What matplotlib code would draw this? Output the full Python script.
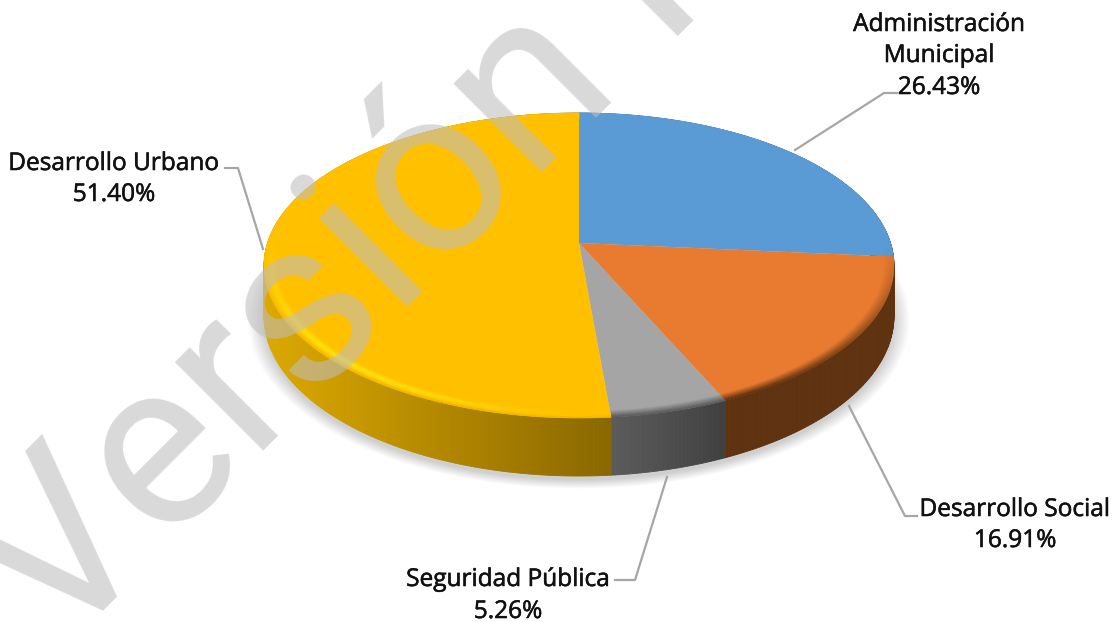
import numpy as np
import matplotlib
matplotlib.use("Agg")
import matplotlib.pyplot as plt
from matplotlib.collections import PolyCollection
from matplotlib.colors import to_rgb
import matplotlib.patheffects as pe

categories = ["Administración\nMunicipal", "Desarrollo Social", "Seguridad Pública", "Desarrollo Urbano"]
values = [26.43, 16.91, 5.26, 51.40]
value_labels = ["26.43%", "16.91%", "5.26%", "51.40%"]
face_colors = ["#5B9BD5", "#E97B30", "#A5A5A5", "#FFC000"]
side_left = ["#2F5F8F", "#5F3210", "#5C5C5C", "#DDA900"]
side_right = ["#1F4E79", "#5F3210", "#404040", "#8A6800"]

W, H = 1117, 622
fig = plt.figure(figsize=(W / 100, H / 100), dpi=100, facecolor="white")
ax = fig.add_axes([0, 0, 1, 1])
ax.set_xlim(0, W)
ax.set_ylim(H, 0)
ax.axis("off")

cx, cy, A, B, k, DEPTH = 579, 243, 311.5, 149.2, 0.1475, 58


def proj(r, th):
    x, y = r * np.sin(th), r * np.cos(th)
    w = 1 + k * y
    return cx + A * x / w, cy - B * y / w


def depth_at(th):
    return DEPTH * (1 - k) / (1 + k * np.cos(th))


def mix(a, b, f):
    a, b = np.array(to_rgb(a)), np.array(to_rgb(b))
    return a + (b - a) * f


# soft shadow under the pie
t_all = np.linspace(0, 2 * np.pi, 361)
sx, sy = proj(1.0, t_all)
sy = sy + depth_at(t_all) + 4
n = 16
for i in range(n):
    g = 1 + 0.05 * (1 - i / (n - 1))
    ax.fill(579 + (sx - 579) * g, 264 + 45 + (sy - 264 - 45) * g,
            color="#000000", alpha=0.011, lw=0, zorder=1)

edges = np.radians(np.concatenate([[0], np.cumsum(values)]) * 3.6)
edges[-1] = 2 * np.pi

# side walls
for i in range(4):
    th = np.linspace(edges[i], edges[i + 1], max(8, int((edges[i + 1] - edges[i]) * 90)))
    xs, ys = proj(1.0, th)
    x0, x1 = xs.min(), xs.max()
    polys, cols = [], []
    for j in range(len(th) - 1):
        d0, d1 = depth_at(th[j]), depth_at(th[j + 1])
        polys.append([(xs[j], ys[j]), (xs[j + 1], ys[j + 1]),
                      (xs[j + 1], ys[j + 1] + d1), (xs[j], ys[j] + d0)])
        cols.append(mix(side_left[i], side_right[i], (xs[j] - x0) / max(x1 - x0, 1)))
    ax.add_collection(PolyCollection(polys, facecolors=cols, edgecolors=cols, linewidths=0.6, zorder=2))

# faces
for i in range(4):
    th = np.linspace(edges[i], edges[i + 1], 200)
    xs, ys = proj(1.0, th)
    ax.fill(np.r_[cx, xs], np.r_[cy, ys], color=face_colors[i], lw=0, zorder=3)

# bevel on the rim
levels = np.linspace(0.945, 1.0, 15)
for i in range(4):
    th = np.linspace(edges[i], edges[i + 1], max(8, int((edges[i + 1] - edges[i]) * 90)))
    polys, cols = [], []
    for a, b in zip(levels[:-1], levels[1:]):
        xa, ya = proj(a, th)
        xb, yb = proj(b, th)
        f = (a - levels[0]) / (levels[-1] - levels[0])
        for j in range(len(th) - 1):
            front = np.clip(-np.cos(th[j]) * 1.15, 0, 1)
            if i == 3:
                left = np.clip(-np.sin(th[j]) * 1.3, 0, 1)
                hl = np.exp(-((f - 0.55) / 0.22) ** 2) * (0.04 + 0.96 * front * left)
                c = mix(face_colors[i], "#FFEE10", hl)
                if f > 0.8:
                    c = mix(c, side_left[i], (f - 0.8) / 0.2 * 0.6 * front)
            else:
                c = mix(face_colors[i], side_left[i], np.clip((f - 0.35) / 0.6, 0, 1) * front)
            polys.append([(xa[j], ya[j]), (xa[j + 1], ya[j + 1]), (xb[j + 1], yb[j + 1]), (xb[j], yb[j])])
            cols.append(c)
    ax.add_collection(PolyCollection(polys, facecolors=cols, edgecolors=cols, linewidths=0.4, zorder=4))

# leader lines
leader = "#A6A6A6"
ax.plot([795, 884, 897], [150, 93, 93], color=leader, lw=1.6, zorder=5)
ax.plot([849, 905, 917], [406, 516, 516], color=leader, lw=1.6, zorder=5)
ax.plot([667, 635, 615], [477, 580, 580], color=leader, lw=1.6, zorder=5)
ax.plot([263, 238, 225], [249, 168, 168], color=leader, lw=1.6, zorder=5)

# labels
fp = dict(family="Open Sans", fontsize=17.6, color="#111111", ha="center", va="center", zorder=7,
          path_effects=[pe.withStroke(linewidth=0.4, foreground="#111111")])
ax.text(939, 25, "Administración", **fp)
ax.text(939, 56, "Municipal", **fp)
ax.text(939, 88, value_labels[0], **fp)
ax.text(1015, 510, categories[1], **fp)
ax.text(1015, 541, value_labels[1], **fp)
ax.text(508, 580, categories[2], **fp)
ax.text(508, 612, value_labels[2], **fp)
ax.text(114, 164, categories[3], **fp)
ax.text(114, 195, value_labels[3], **fp)

# watermark
ax.text(58, 657, "Versión P", family="Roboto", fontsize=170, color="#BEBEBE", alpha=0.58,
        rotation=45, rotation_mode="anchor", ha="left", va="baseline", zorder=6, clip_on=True)

fig.savefig("out.png", dpi=100)
